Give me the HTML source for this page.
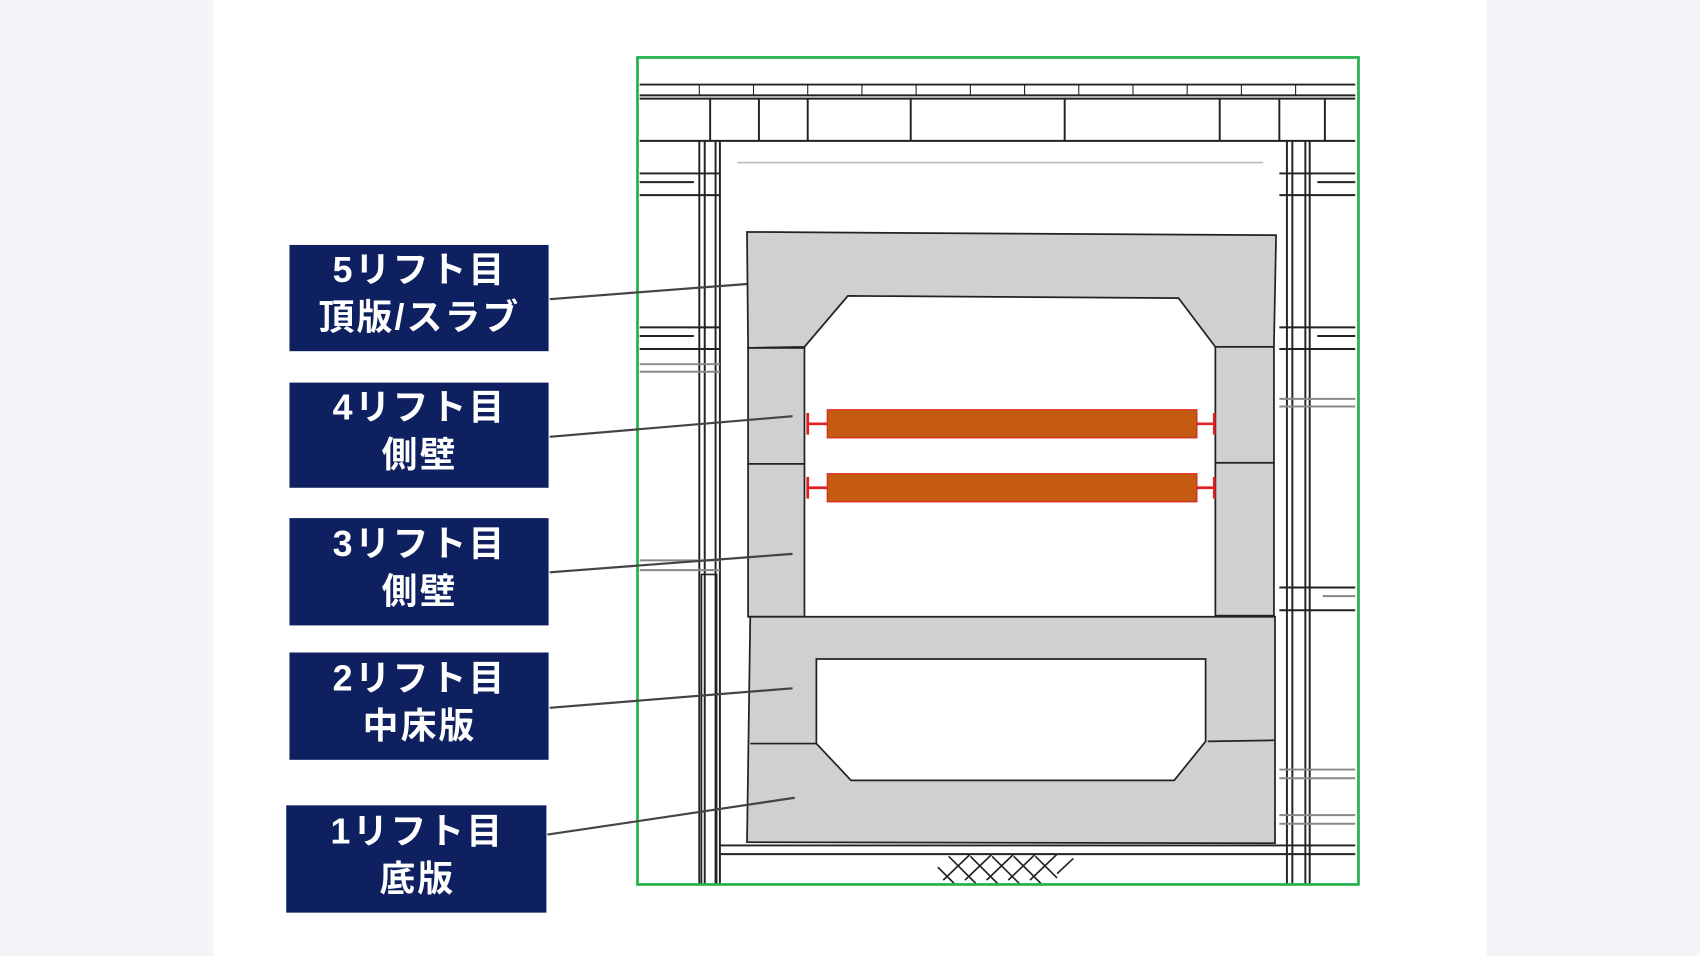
<!DOCTYPE html>
<html><head><meta charset="utf-8"><style>
html,body{margin:0;padding:0;width:1700px;height:956px;overflow:hidden;background:#fff}
svg{display:block}
text{font-family:"Liberation Sans","Noto Sans CJK JP",sans-serif;font-weight:bold;fill:#fff;font-size:33px;letter-spacing:2px;text-anchor:middle}
</style></head><body>
<svg width="1700" height="956" viewBox="0 0 1568 882" preserveAspectRatio="none" xmlns="http://www.w3.org/2000/svg">
<rect x="0" y="0" width="1568" height="882" fill="#f3f5f9"/>
<rect x="197" y="0" width="1174" height="882" fill="#fff"/>

<g stroke="#222" stroke-width="1.8" fill="none">
<line x1="590" y1="78" x2="1250" y2="78"/>
<line x1="590" y1="88" x2="1250" y2="88"/>
<line x1="590" y1="91" x2="1250" y2="91"/>
<line x1="590" y1="130" x2="1250" y2="130"/>
<g stroke-width="1">
<line x1="645" y1="78" x2="645" y2="88"/><line x1="695" y1="78" x2="695" y2="88"/><line x1="745" y1="78" x2="745" y2="88"/><line x1="795" y1="78" x2="795" y2="88"/><line x1="845" y1="78" x2="845" y2="88"/><line x1="895" y1="78" x2="895" y2="88"/><line x1="945" y1="78" x2="945" y2="88"/><line x1="995" y1="78" x2="995" y2="88"/><line x1="1045" y1="78" x2="1045" y2="88"/><line x1="1095" y1="78" x2="1095" y2="88"/><line x1="1145" y1="78" x2="1145" y2="88"/><line x1="1195" y1="78" x2="1195" y2="88"/>
</g>
<line x1="655" y1="91" x2="655" y2="130"/><line x1="700" y1="91" x2="700" y2="130"/><line x1="745" y1="91" x2="745" y2="130"/><line x1="840" y1="91" x2="840" y2="130"/><line x1="982" y1="91" x2="982" y2="130"/><line x1="1125" y1="91" x2="1125" y2="130"/><line x1="1180" y1="91" x2="1180" y2="130"/><line x1="1222" y1="91" x2="1222" y2="130"/>
<line x1="645" y1="130" x2="645" y2="816"/><line x1="650" y1="130" x2="650" y2="816"/><line x1="660" y1="130" x2="660" y2="816"/><line x1="664" y1="130" x2="664" y2="816"/>
<line x1="1187" y1="130" x2="1187" y2="816"/><line x1="1192" y1="130" x2="1192" y2="816"/><line x1="1204" y1="130" x2="1204" y2="816"/><line x1="1208" y1="130" x2="1208" y2="816"/>
<line x1="590" y1="160" x2="664" y2="160"/><line x1="590" y1="168" x2="640" y2="168"/><line x1="590" y1="180" x2="664" y2="180"/>
<line x1="590" y1="302" x2="664" y2="302"/><line x1="590" y1="310" x2="640" y2="310"/><line x1="590" y1="322" x2="664" y2="322"/>
<line x1="590" y1="336" x2="664" y2="336" stroke="#888"/><line x1="590" y1="343" x2="664" y2="343" stroke="#888"/>
<line x1="590" y1="517" x2="664" y2="517" stroke="#888"/><line x1="590" y1="526" x2="664" y2="526" stroke="#888"/>
<line x1="1180" y1="160" x2="1250" y2="160"/><line x1="1215" y1="168" x2="1250" y2="168"/><line x1="1180" y1="180" x2="1250" y2="180"/>
<line x1="1180" y1="302" x2="1250" y2="302"/><line x1="1215" y1="310" x2="1250" y2="310"/><line x1="1180" y1="322" x2="1250" y2="322"/>
<line x1="1180" y1="368" x2="1250" y2="368" stroke="#888"/><line x1="1180" y1="375" x2="1250" y2="375" stroke="#888"/>
<line x1="1180" y1="542" x2="1250" y2="542"/><line x1="1220" y1="550" x2="1250" y2="550" stroke="#888"/><line x1="1180" y1="563" x2="1250" y2="563"/>
<line x1="1180" y1="710" x2="1250" y2="710" stroke="#888"/><line x1="1180" y1="718" x2="1250" y2="718" stroke="#888"/>
<line x1="1180" y1="752" x2="1250" y2="752" stroke="#888"/><line x1="1180" y1="760" x2="1250" y2="760" stroke="#888"/>
<line x1="664" y1="780" x2="1250" y2="780"/><line x1="664" y1="788" x2="1250" y2="788"/>
<rect x="647" y="530" width="14" height="286" stroke-width="1.5"/>
</g>
<line x1="680" y1="150" x2="1165" y2="150" stroke="#bbb" stroke-width="1.5"/>

<g stroke="#222" stroke-width="1.5">
<line x1="865" y1="800" x2="880" y2="815"/><line x1="875" y1="790" x2="900" y2="815"/><line x1="895" y1="790" x2="920" y2="815"/><line x1="915" y1="790" x2="940" y2="815"/><line x1="935" y1="790" x2="960" y2="815"/><line x1="955" y1="790" x2="975" y2="810"/>
<line x1="870" y1="812" x2="895" y2="788"/><line x1="890" y1="812" x2="915" y2="788"/><line x1="910" y1="812" x2="935" y2="788"/><line x1="930" y1="812" x2="955" y2="788"/><line x1="950" y1="812" x2="975" y2="788"/><line x1="975" y1="806" x2="990" y2="792"/>
</g>

<g fill="#d0cfd1" stroke="#222" stroke-width="1.6">
<path d="M689 214 L1177 217 L1175 320 L1121 320 L1087 275 L782 273 L742 320 L690 321 Z"/>
<rect x="690" y="321" width="52" height="107"/>
<rect x="690" y="428" width="52" height="141"/>
<rect x="1121" y="320" width="54" height="107"/>
<rect x="1121" y="427" width="54" height="141"/>
<path fill-rule="evenodd" d="M692 569 L1176 569 L1176 778 L689 777 Z M753 608 L1112 608 L1112 684 L1083 720 L785 720 L753 686 Z"/>
<line x1="692" y1="686" x2="753" y2="686"/><line x1="1114" y1="684" x2="1175" y2="683"/>
</g>

<g>
<rect x="763" y="378" width="341" height="26" fill="#c55a11" stroke="#e02020" stroke-width="1"/>
<rect x="763" y="437" width="341" height="26" fill="#c55a11" stroke="#e02020" stroke-width="1"/>
<g stroke="#e02020" stroke-width="2.5">
<line x1="745" y1="391" x2="763" y2="391"/><line x1="745" y1="381" x2="745" y2="401"/>
<line x1="1104" y1="391" x2="1120" y2="391"/><line x1="1120" y1="381" x2="1120" y2="401"/>
<line x1="745" y1="450" x2="763" y2="450"/><line x1="745" y1="440" x2="745" y2="460"/>
<line x1="1104" y1="450" x2="1120" y2="450"/><line x1="1120" y1="440" x2="1120" y2="460"/>
</g>
</g>

<rect x="588" y="53" width="665" height="763" fill="none" stroke="#22b14c" stroke-width="2.5"/>

<g stroke="#444" stroke-width="2">
<line x1="507" y1="276" x2="689" y2="262"/>
<line x1="507" y1="403" x2="731" y2="384"/>
<line x1="507" y1="528" x2="731" y2="511"/>
<line x1="507" y1="653" x2="731" y2="635"/>
<line x1="505" y1="770" x2="733" y2="736"/>
</g>

<g fill="#0e205f">
<rect x="267" y="226" width="239" height="98"/>
<rect x="267" y="353" width="239" height="97"/>
<rect x="267" y="478" width="239" height="99"/>
<rect x="267" y="602" width="239" height="99"/>
<rect x="264" y="743" width="240" height="99"/>
</g>
<text x="387" y="260">5リフト目</text><text x="387" y="304">頂版/スラブ</text>
<text x="387" y="387">4リフト目</text><text x="387" y="431">側壁</text>
<text x="387" y="513">3リフト目</text><text x="387" y="557">側壁</text>
<text x="387" y="637">2リフト目</text><text x="387" y="681">中床版</text>
<text x="385" y="778">1リフト目</text><text x="385" y="822">底版</text>
</svg>
</body></html>
